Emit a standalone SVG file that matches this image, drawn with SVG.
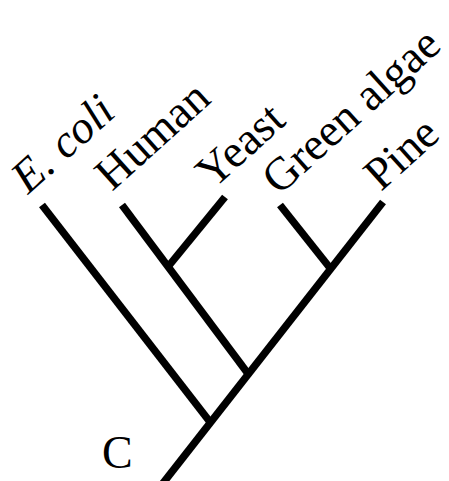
<svg xmlns="http://www.w3.org/2000/svg" width="449" height="481" viewBox="0 0 449 481">
<style>
.br{stroke:#000;stroke-width:7.5;fill:none;stroke-linecap:butt}
.lb{font-family:"Liberation Serif","Times New Roman",serif;font-size:46px;fill:#000}
</style>
<rect width="449" height="481" fill="#fff"/>
<g id="connectors">
<line class="br" x1="383" y1="202" x2="160" y2="487"/>
<line class="br" x1="42" y1="205" x2="210" y2="422"/>
<line class="br" x1="122" y1="205" x2="249" y2="375"/>
<line class="br" x1="225" y1="197" x2="167" y2="268"/>
<line class="br" x1="280" y1="205" x2="330" y2="268"/>
</g>
<g id="ecoli"><text class="lb" font-style="italic" transform="translate(28,195) rotate(-42)">E. coli</text></g>
<g id="human"><text class="lb" transform="translate(112,192) rotate(-42)">Human</text></g>
<g id="yeast"><text class="lb" transform="translate(213,190) rotate(-42)">Yeast</text></g>
<g id="green-algae"><text class="lb" transform="translate(279,196) rotate(-42)">Green algae</text></g>
<g id="pine"><text class="lb" transform="translate(381,192) rotate(-42)">Pine</text></g>
<g id="c-label"><text class="lb" x="102" y="468">C</text></g>
</svg>
